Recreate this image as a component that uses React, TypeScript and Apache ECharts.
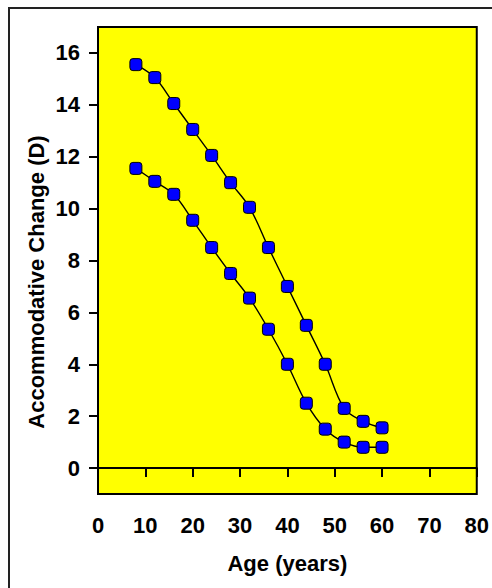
import React, { useEffect, useRef } from "react";
import * as echarts from "echarts";

const ages = [8, 12, 16, 20, 24, 28, 32, 36, 40, 44, 48, 52, 56, 60];
const upperValues = [15.55, 15.05, 14.05, 13.05, 12.05, 11.0, 10.05, 8.5, 7.0, 5.5, 4.0, 2.3, 1.8, 1.55];
const lowerValues = [11.55, 11.05, 10.55, 9.55, 8.5, 7.5, 6.55, 5.35, 4.0, 2.5, 1.5, 1.0, 0.8, 0.8];
const yTicks = [0, 2, 4, 6, 8, 10, 12, 14, 16];
const xTitle = "Age (years)";
const yTitle = "Accommodative Change (D)";

const FONT = "'Liberation Sans', Arial, sans-serif";

export default function App() {
  const ref = useRef<HTMLDivElement>(null);
  useEffect(() => {
    if (!ref.current) return;
    const chart = echarts.init(ref.current, null, { renderer: "svg" });
    const mkSeries = (name: string, vals: number[], withZero: boolean) => ({
      name,
      type: "line",
      data: ages.map((a, i) => [a, vals[i]]),
      smooth: 0.35,
      symbol: "roundRect",
      symbolSize: 12,
      lineStyle: { color: "#000", width: 1.4 },
      itemStyle: { color: "#0000ff", borderColor: "#000", borderWidth: 1 },
      z: 3,
      ...(withZero
        ? {
            markLine: {
              silent: true,
              symbol: ["none", "none"],
              label: { show: false },
              lineStyle: { color: "#000", width: 2, type: "solid" },
              data: [{ yAxis: 0 }],
            },
          }
        : {}),
    });
    chart.setOption({
      animation: false,
      backgroundColor: "#fff",
      grid: {
        left: 98,
        right: 10,
        top: 27,
        bottom: 94,
        show: true,
        backgroundColor: "#ffff00",
        borderColor: "#000",
        borderWidth: 2,
      },
      xAxis: {
        type: "value",
        min: 0,
        max: 80,
        interval: 10,
        name: xTitle,
        nameLocation: "middle",
        nameGap: 58,
        nameTextStyle: { fontFamily: FONT, fontWeight: "bold", fontSize: 22, color: "#000" },
        axisLine: { show: true, lineStyle: { color: "#000", width: 2 } },
        axisTick: { show: true, length: 9, lineStyle: { color: "#000", width: 2 } },
        axisLabel: { margin: 20, fontFamily: FONT, fontWeight: "bold", fontSize: 22, color: "#000" },
        splitLine: { show: false },
      },
      yAxis: {
        type: "value",
        min: -1,
        max: 17,
        axisLine: { show: true, lineStyle: { color: "#000", width: 2 } },
        axisTick: { show: true, length: 9, customValues: yTicks, lineStyle: { color: "#000", width: 2 } },
        axisLabel: {
          margin: 18,
          customValues: yTicks,
          fontFamily: FONT,
          fontWeight: "bold",
          fontSize: 22,
          color: "#000",
        },
        splitLine: { show: false },
      },
      graphic: [
        {
          type: "rect",
          shape: { x: 9, y: 8, width: 520, height: 620 },
          style: { fill: "none", stroke: "#222", lineWidth: 2 },
          silent: true,
          z: 10,
        },
        {
          type: "text",
          x: 36,
          y: 282,
          rotation: Math.PI / 2,
          style: {
            text: yTitle,
            fontFamily: FONT,
            fontWeight: "bold",
            fontSize: 22,
            fill: "#000",
            align: "center",
            verticalAlign: "middle",
          },
        },
      ],
      series: [mkSeries("Upper", upperValues, true), mkSeries("Lower", lowerValues, false)],
    });
    return () => chart.dispose();
  }, []);
  return (
    <div
      ref={ref}
      style={{ position: "fixed", left: 0, top: 0, width: 492, height: 588 }}
    />
  );
}
